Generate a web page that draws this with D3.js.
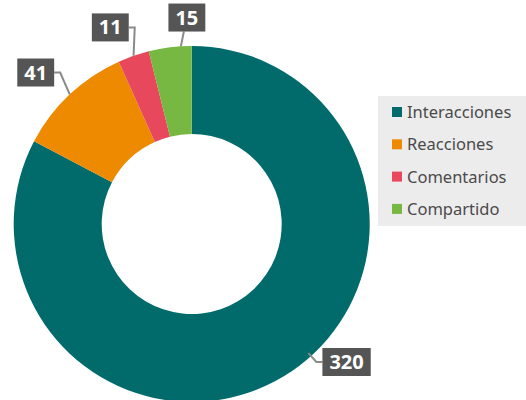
<!DOCTYPE html>
<html><head><meta charset="utf-8">
<script src="https://cdn.jsdelivr.net/npm/d3@7"></script>
<style>body{margin:0;background:#fff;overflow:hidden}svg{display:block}</style>
</head><body>
<svg id="c" width="526" height="400"></svg>
<script>
const categories = ["Interacciones", "Reacciones", "Comentarios", "Compartido"];
const values = [320, 41, 11, 15];
const colors = ["#006b6a", "#ee8a00", "#e8485c", "#76b841"];

const W = 526, H = 400;
const cx = 191.7, cy = 224, R = 178, r = 90;
const svg = d3.select("#c");

const pie = d3.pie().sort(null).value(d => d.v)(categories.map((c, i) => ({c, v: values[i], col: colors[i]})));
const arc = d3.arc().innerRadius(r).outerRadius(R);
const g = svg.append("g").attr("transform", `translate(${cx},${cy})`);

// connectors & labels
const Rl = 208;
const lab = svg.append("g");
pie.forEach(d => {
  const a = (d.startAngle + d.endAngle) / 2;
  const s = Math.sin(a), c = Math.cos(a);
  const P = [cx + R * s, cy - R * c];
  let ax = cx + Rl * s, ay = cy - Rl * c;
  const t = lab.append("text").text(d.data.v)
    .attr("font-family", "'Noto Sans', sans-serif").attr("font-weight", "bold")
    .attr("font-size", 20).attr("fill", "#fff").attr("text-anchor", "middle");
  const tw = t.node().getComputedTextLength();
  const bw = tw + 14, bh = 28;
  let bx, by, pts;
  if (Math.abs(s) < 0.2) {
    const a2 = a + 0.5 * (d.endAngle - a);
    const P2 = [cx + R * Math.sin(a2), cy - R * Math.cos(a2)];
    bx = P2[0] + 6 - bw / 2; by = ay - bh / 2;
    pts = [P2, [P2[0] + 3, by + bh]];
  } else if (ay > H - 38) {
    ay = H - 38;
    const dy = ay - cy;
    const ex = cx + Math.sign(s) * Math.sqrt((R + 8) ** 2 - dy * dy);
    const ang = Math.atan2(ex - cx, -(dy));
    const P2 = [cx + (R - 4) * Math.sin(ang), cy - (R - 4) * Math.cos(ang)];
    bx = s > 0 ? ex + 6 : ex - 6 - bw; by = ay - bh / 2;
    pts = [P2, [ex, ay], [s > 0 ? bx : bx + bw, ay]];
  } else {
    if (s < 0) { bx = ax + 5 - bw; pts = [P, [ax + 11, ay], [ax + 5, ay]]; }
    else { bx = ax - 5; pts = [P, [ax - 11, ay], [ax - 5, ay]]; }
    by = ay - bh / 2;
  }
  lab.insert("path", "text").attr("d", d3.line()(pts))
    .attr("fill", "none").attr("stroke", "#8a8a8a").attr("stroke-width", 2);
  lab.insert("rect", "text").attr("x", bx).attr("y", by).attr("width", bw).attr("height", bh)
    .attr("fill", "#555555");
  t.attr("x", bx + bw / 2).attr("y", by + bh / 2 + 7);
});

g.selectAll("path").data(pie).join("path").attr("d", arc).attr("fill", d => d.data.col);

// legend
const lg = svg.append("g");
lg.append("rect").attr("x", 378).attr("y", 96).attr("width", 148).attr("height", 130).attr("fill", "#ececec");
categories.forEach((cat, i) => {
  const y = 112 + i * 32.3;
  lg.append("rect").attr("x", 392).attr("y", y - 5).attr("width", 10).attr("height", 10).attr("fill", colors[i]);
  lg.append("text").attr("x", 407).attr("y", y + 6).text(cat)
    .attr("font-family", "'Noto Sans', sans-serif").attr("font-size", 16.5).attr("fill", "#4a4a4a");
});
</script>
</body></html>
